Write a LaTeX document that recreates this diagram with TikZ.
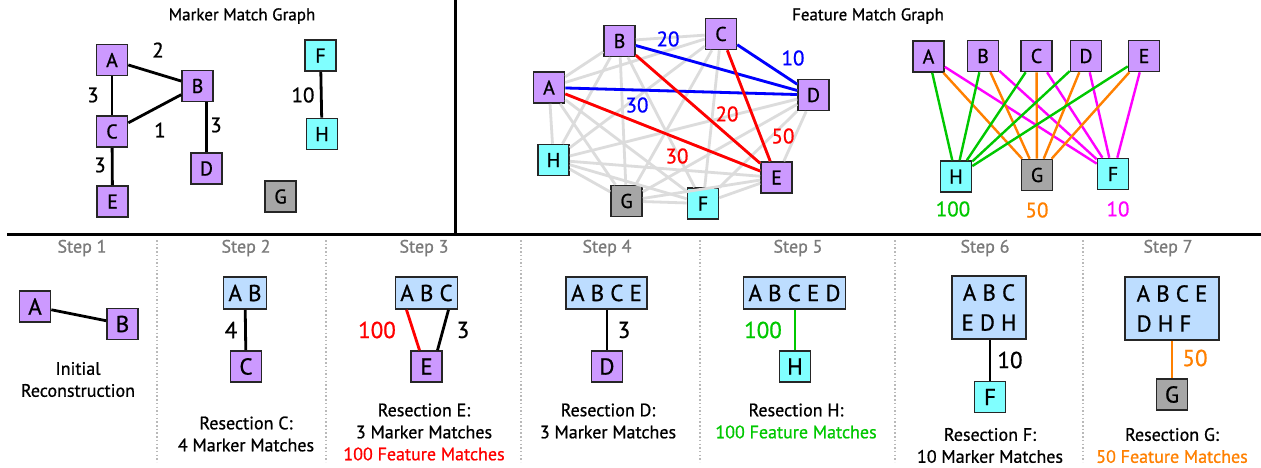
\documentclass[tikz,border=0pt]{standalone}
\usepackage{fontspec}
\setmainfont{PT Sans}[FakeBold=0.8]
\usetikzlibrary{calc,backgrounds}
\definecolor{purp}{HTML}{CC99FF}
\definecolor{cyn}{HTML}{80FFFF}
\definecolor{gry}{HTML}{A6A6A6}
\definecolor{lblue}{HTML}{BDDDFF}
\definecolor{grn}{HTML}{00C800}
\definecolor{org}{HTML}{FF8000}
\definecolor{mag}{HTML}{FF00FF}
\definecolor{lgr}{HTML}{DCDCDC}
\definecolor{stepgray}{HTML}{7A7A7A}
\definecolor{blu}{HTML}{0000FF}
\definecolor{rd}{HTML}{FF0000}
\begin{document}
\begin{tikzpicture}[x=1pt,y=-1pt,
  box/.style={draw=black!85, line width=1.6pt, minimum size=31pt, inner sep=0pt, font=\fontsize{20}{22}\selectfont},
  pbox/.style={box, fill=purp}, cbox/.style={box, fill=cyn}, gbox/.style={box, fill=gry},
  bbox/.style={box, font=\fontsize{23}{24}\selectfont},
  bpbox/.style={bbox, fill=purp}, bcbox/.style={bbox, fill=cyn}, bgbox/.style={bbox, fill=gry},
  grpbox/.style={draw=black!85, line width=1.6pt, fill=lblue, minimum height=32pt, inner xsep=5pt, inner ysep=0pt, font=\fontsize{23}{30}\selectfont},
  ln/.style={line width=2.8pt},
  thin/.style={line width=2.4pt},
  gln/.style={line width=2.8pt, draw=lgr},
  lbl/.style={font=\fontsize{21}{22}\selectfont, inner sep=0pt},
  blbl/.style={font=\fontsize{23}{24}\selectfont, inner sep=0pt},
  ttl/.style={font=\fontsize{17}{20}\selectfont},
  stp/.style={font=\fontsize{18}{20}\selectfont, text=stepgray},
  desc/.style={font=\fontsize{18}{22}\selectfont, align=center},
  sepline/.style={draw=gray!55, line width=1.5pt, dash pattern=on 1.5pt off 2.2pt},
]
\useasboundingbox (0,0) rectangle (1261,467);
\fill[white] (0,0) rectangle (1261,467);

% dividers
\coordinate (vt) at (455,0); \coordinate (vb) at (455,233);
\draw[line width=3pt] (vt) -- (vb);
\coordinate (hl) at (7,234); \coordinate (hr) at (1261,234);
\draw[line width=3pt] (hl) -- (hr);
\foreach \x in {157,326,521,700,895,1083} {
  \coordinate (st\x) at (\x,240); \coordinate (sb\x) at (\x,462);
  \draw[sepline] (st\x) -- (sb\x);
}

% titles
\node[ttl] (t1) at (242,16) {Marker Match Graph};
\node[ttl] (t2) at (868,16) {Feature Match Graph};

% ---------- marker match graph
\node[pbox] (mA) at (112,60) {A};
\node[pbox] (mB) at (197.5,86) {B};
\node[pbox] (mC) at (112,131.5) {C};
\node[pbox] (mD) at (206.5,168.5) {D};
\node[pbox] (mE) at (112.5,201.5) {E};
\node[cbox] (mF) at (320.5,55.5) {F};
\node[cbox] (mH) at (322,134) {H};
\node[gbox] (mG) at (280.5,196.5) {G};
\draw[ln] (mA) -- (mB);
\draw[ln] (mA) -- (mC);
\draw[ln] (mC) -- (mB);
\draw[ln] (mC) -- (mE);
\draw[ln] (mB.south -| mD) -- (mD.north);
\draw[ln] (mF) -- (mH);
\node[lbl] (l1) at (158,50) {2};
\node[lbl] (l2) at (93,95) {3};
\node[lbl] (l3) at (160,130) {1};
\node[lbl] (l4) at (216,125) {3};
\node[lbl] (l5) at (100,165) {3};
\node[lbl] (l6) at (303,95) {10};

% ---------- feature match graph
\node[pbox] (fA) at (549,87.5) {A};
\node[pbox] (fB) at (619.5,41) {B};
\node[pbox] (fC) at (721,34) {C};
\node[pbox] (fD) at (813.5,95) {D};
\node[pbox] (fE) at (776.5,177.5) {E};
\node[cbox] (fF) at (703,203.5) {F};
\node[gbox] (fG) at (626.5,201) {G};
\node[cbox] (fH) at (553.5,160) {H};
\foreach \a/\b in {A/B,A/C,A/D,A/E,A/F,A/G,A/H,B/C,B/D,B/E,B/F,B/G,B/H,C/D,C/E,C/F,C/G,C/H,D/E,D/F,D/G,D/H,E/F,E/G,E/H,F/G,F/H,G/H}
  \draw[gln] (f\a) -- (f\b);
\draw[ln, blu] (fB) -- (fD);
\draw[ln, blu] (fC) -- (fD);
\draw[ln, blu] (fA) -- (fD);
\draw[ln, rd] (fA) -- (fE);
\draw[ln, rd] (fB) -- (fE);
\draw[ln, rd] (fC) -- (fE);
\node[lbl, blu] (fl1) at (668,39) {20};
\node[lbl, blu] (fl2) at (793,58) {10};
\node[lbl, blu] (fl3) at (637,105) {30};
\node[lbl, rd] (fl4) at (727,114) {20};
\node[lbl, rd] (fl5) at (783,136) {50};
\node[lbl, rd] (fl6) at (677,156) {30};

% ---------- bipartite graph
\node[pbox] (bA) at (928.5,56.5) {A};
\node[pbox] (bB) at (983,56) {B};
\node[pbox] (bC) at (1036.5,56) {C};
\node[pbox] (bD) at (1086,56) {D};
\node[pbox] (bE) at (1144,56) {E};
\node[cbox] (bH) at (956,176.5) {H};
\node[gbox] (bG) at (1037,175) {G};
\node[cbox] (bF) at (1113,174) {F};
\begin{pgfonlayer}{background}
\coordinate (bgend) at (1108,48);
\draw[line width=2pt, draw=lgr] (bB.center) -- (bgend);
\end{pgfonlayer}
\foreach \a in {A,B,C,D,E} {
  \draw[thin, grn] (b\a) -- (bH);
  \draw[thin, org] (b\a) -- (bG);
  \draw[thin, mag] (b\a) -- (bF);
}
\node[lbl, grn] (bl1) at (953,209) {100};
\node[lbl, org] (bl2) at (1037,210) {50};
\node[lbl, mag] (bl3) at (1118,209) {10};

% ---------- steps
\foreach \x/\n in {82/1,246/2,424/3,607/4,798/5,985/6,1168/7}
  \node[stp] (step\n) at (\x,248) {Step \n};

% step 1
\node[bpbox] (s1A) at (35,306.5) {A};
\node[bpbox] (s1B) at (122.5,324) {B};
\draw[ln] (s1A) -- (s1B);
\node[desc] (d1) at (78,379.5) {Initial\\Reconstruction};

% step 2
\node[grpbox] (s2AB) at (245,293) {A B};
\node[bpbox] (s2C) at (246,366.5) {C};
\draw[ln] (s2AB) -- (s2C);
\node[blbl] (s2l) at (231,330) {4};
\node[desc] (d2) at (246,434) {Resection C:\\4 Marker Matches};

% step 3
\node[grpbox] (s3ABC) at (426.5,293) {A B C};
\node[bpbox] (s3E) at (426.5,366.5) {E};
\draw[ln, rd] ($(s3ABC.south)+(-20,0)$) -- ($(s3E.north)+(-7,0)$);
\draw[ln] ($(s3ABC.south)+(22,0)$) -- ($(s3E.north)+(11,0)$);
\node[blbl, rd] (s3l1) at (377,330) {100};
\node[blbl] (s3l2) at (463,330) {3};
\node[desc] (d3) at (424,432) {Resection E:\\3 Marker Matches\\{\color{rd}100 Feature Matches}};

% step 4
\node[grpbox] (s4ABCE) at (606.5,293) {A B C E};
\node[bpbox] (s4D) at (607,366.5) {D};
\draw[ln] (s4ABCE.south -| s4D) -- (s4D.north);
\node[blbl] (s4l) at (624,330) {3};
\node[desc] (d4) at (608,421) {Resection D:\\3 Marker Matches};

% step 5
\node[grpbox] (s5ABCED) at (794.5,293) {A B C E D};
\node[bcbox] (s5H) at (795,366.5) {H};
\draw[ln, grn] (s5ABCED.south -| s5H) -- (s5H.north);
\node[blbl, grn] (s5l) at (763,330) {100};
\node[desc] (d5) at (796,421) {Resection H:\\{\color{grn}100 Feature Matches}};

% step 6
\node[grpbox, align=center, minimum width=74pt, minimum height=63pt] (s6box) at (989,307.5) {A B C\\E D H};
\node[bcbox] (s6F) at (990,397) {F};
\draw[ln] (s6box.south -| s6F) -- (s6F.north);
\node[blbl] (s6l) at (1010,360) {10};
\node[desc] (d6) at (990,445.5) {Resection F:\\10 Marker Matches};

% step 7
\node[grpbox, align=left, minimum width=94pt, minimum height=63pt] (s7box) at (1172,308.5) {A B C E\\D H F};
\node[bgbox] (s7G) at (1172,394.5) {G};
\draw[ln, org] (s7box) -- (s7G);
\node[blbl, org] (s7l) at (1195,358) {50};
\node[desc] (d7) at (1172,445.5) {Resection G:\\{\color{org}50 Feature Matches}};
\end{tikzpicture}
\end{document}
